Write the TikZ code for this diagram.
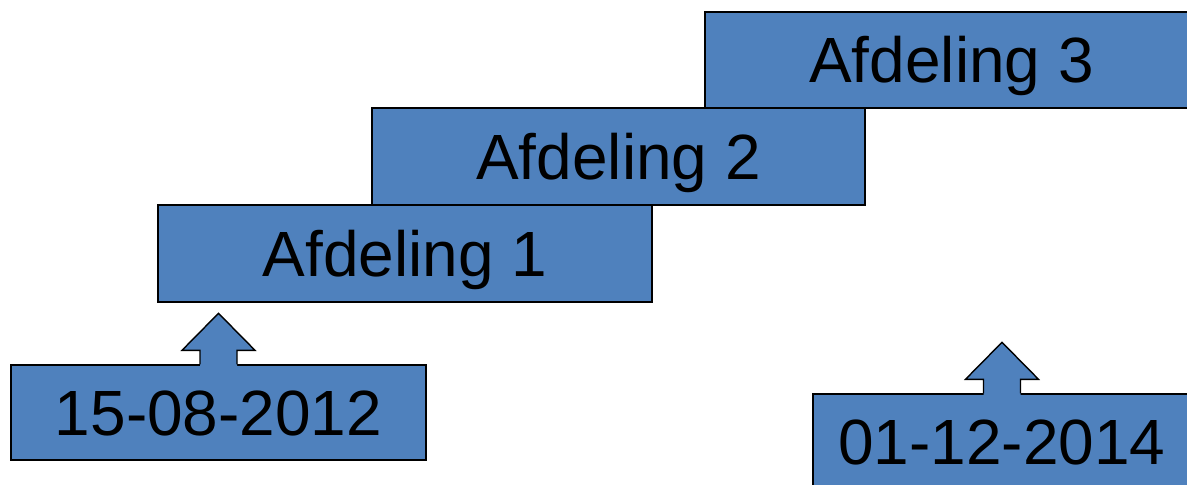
\documentclass[tikz,border=0pt]{standalone}
\usepackage{fontspec}
\setmainfont{Liberation Sans}
\usepackage{tikz}
\definecolor{boxblue}{RGB}{79,129,189}
\tikzset{
  afdbox/.style={draw=black,fill=boxblue,line width=0.8pt,inner sep=0pt,
    minimum height=1.94cm,text height=26.1pt,text depth=0pt,
    font=\fontsize{36.4}{43}\selectfont},
  datebox/.style={afdbox,minimum height=1.9cm},
}
% block arrow on top of a date box
\newcommand{\uparrowon}[1]{%
  \fill[boxblue](#1.north)++(-18.5,1.5)--++(0,-15.5)--++(-18,0)--++(36.5,-37)--++(36.5,37)--++(-18,0)--++(0,15.5)--cycle;
  \draw[line width=0.8pt](#1.north)++(-18.5,0)--++(0,-14)--++(-18,0)--++(36.5,-37)--++(36.5,37)--++(-18,0)--++(0,14);
}

\begin{document}
\begin{tikzpicture}[x=0.02cm,y=-0.02cm]
\useasboundingbox(0,0)rectangle(1187,484);
\clip(0,0)rectangle(1187,484);
\node[afdbox,minimum width=9.86cm,minimum height=1.92cm](a3)at(951.5,60){Afdeling 3};
\node[afdbox,minimum width=9.86cm](a2)at(618.5,156.5){Afdeling 2};
\node[afdbox,minimum width=9.88cm](a1)at(405,253.5){Afdeling 1};
\node[datebox,minimum width=8.3cm](d1)at(218.5,412.5){15-08-2012};
\node[datebox,minimum width=7.56cm](d2)at(1002,441.5){01-12-2014};
\uparrowon{d1}
\uparrowon{d2}
\end{tikzpicture}
\end{document}
